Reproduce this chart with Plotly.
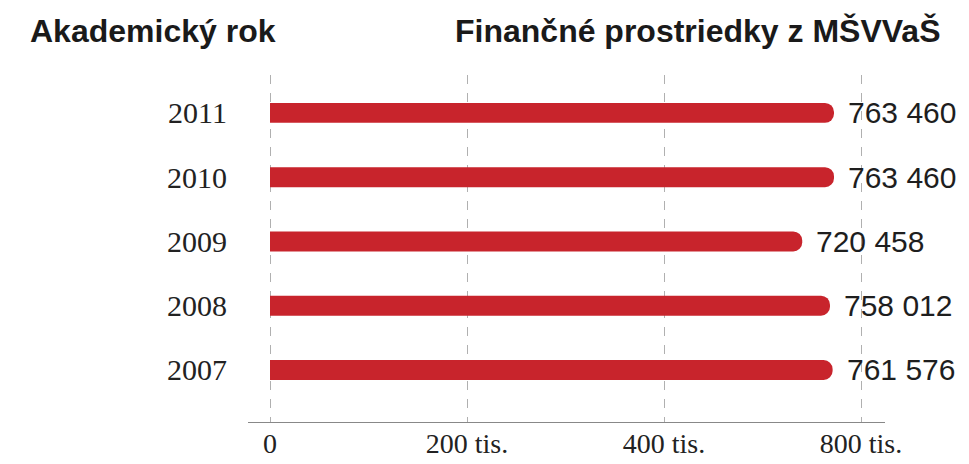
import plotly.graph_objects as go

years = ["2007", "2008", "2009", "2010", "2011"]
funds = [761576, 758012, 720458, 763460, 763460]
tick_values = [0, 266667, 533333, 800000]
tick_labels = ["0", "200 tis.", "400 tis.", "800 tis."]
header_left = "Akademický rok"
header_right = "Finančné prostriedky z MŠVVaŠ"

bar_color = "#c8242c"

fig = go.Figure()
fig.add_trace(go.Bar(
    x=funds, y=years, orientation="h",
    marker=dict(color=bar_color, line=dict(width=0)),
    width=0.31,
    hoverinfo="skip",
))

for i, v in enumerate(funds):
    fig.add_annotation(
        x=v, y=i, xref="x", yref="y",
        text=f"{v:,}".replace(",", " "),
        showarrow=False, xanchor="left", yanchor="middle",
        xshift=12,
        font=dict(family="Liberation Sans, Arial, sans-serif", size=30, color="#1e1e1e"),
    )

fig.add_annotation(
    x=-0.345, y=1.127, xref="paper", yref="paper",
    text=f"<b>{header_left}</b>", showarrow=False,
    xanchor="left", yanchor="middle",
    font=dict(family="Liberation Sans, Arial, sans-serif", size=32, color="#1a1a1a"),
)
fig.add_annotation(
    x=1.0895, y=1.127, xref="paper", yref="paper",
    text=f"<b>{header_right}</b>", showarrow=False,
    xanchor="right", yanchor="middle",
    font=dict(family="Liberation Sans, Arial, sans-serif", size=32, color="#1a1a1a"),
)

fig.update_layout(
    width=969, height=464,
    margin=dict(l=248, r=84, t=75, b=42),
    paper_bgcolor="white", plot_bgcolor="white",
    showlegend=False,
    barcornerradius="50%",
    xaxis=dict(
        range=[-29780, 832490],
        tickvals=tick_values, ticktext=tick_labels,
        showgrid=True, gridcolor="#b0b0b0", griddash="dash", gridwidth=1,
        zeroline=False,
        showline=True, linecolor="#888888", linewidth=1,
        ticks="", ticklabelstandoff=-4,
        automargin=False,
        tickfont=dict(family="Liberation Serif, Times New Roman, serif", size=28, color="#222222"),
        fixedrange=True,
    ),
    yaxis=dict(
        type="category",
        range=[-0.81, 4.59],
        showgrid=False, zeroline=False, showline=False,
        ticks="", ticklabelstandoff=20,
        automargin=False,
        tickfont=dict(family="Liberation Serif, Times New Roman, serif", size=30, color="#222222"),
        fixedrange=True,
    ),
)

fig.write_html("out.html", config={"displayModeBar": False, "staticPlot": True},
               post_script="document.body.style.margin='0';")
